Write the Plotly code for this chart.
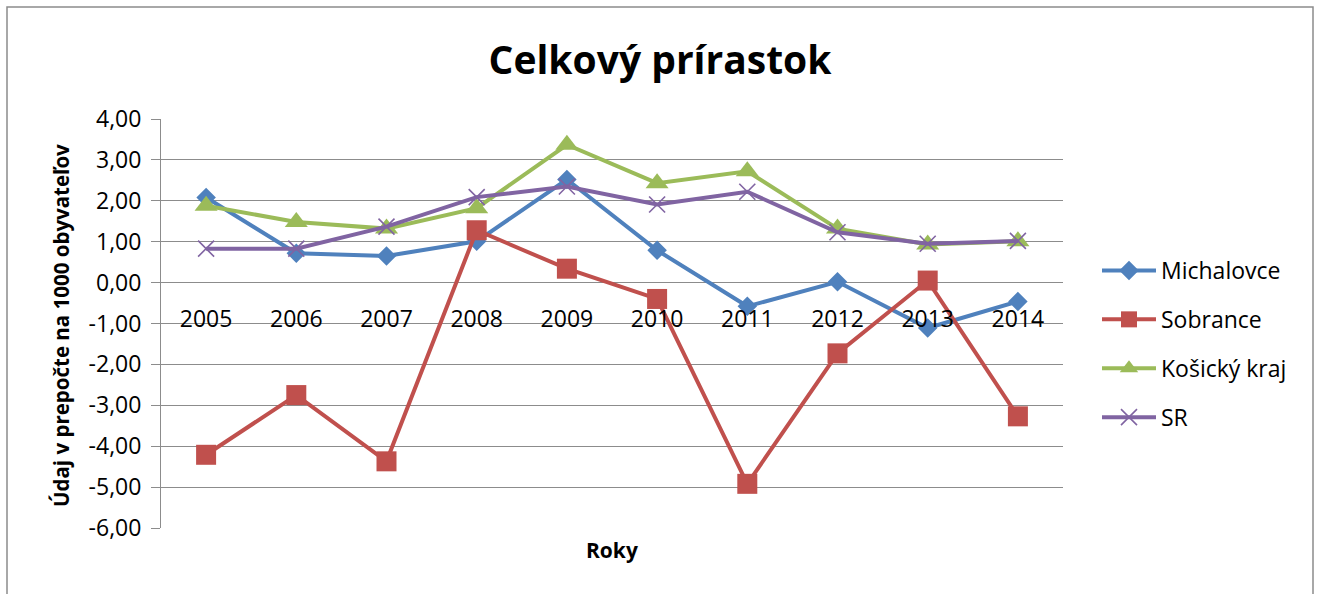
import plotly.graph_objects as go

years = [2005, 2006, 2007, 2008, 2009, 2010, 2011, 2012, 2013, 2014]
michalovce = [2.08, 0.72, 0.65, 1.01, 2.52, 0.79, -0.58, 0.02, -1.11, -0.46]
sobrance = [-4.21, -2.75, -4.37, 1.28, 0.34, -0.40, -4.92, -1.73, 0.05, -3.27]
kosicky = [1.88, 1.48, 1.32, 1.82, 3.37, 2.43, 2.72, 1.32, 0.93, 1.01]
sr = [0.83, 0.83, 1.37, 2.09, 2.35, 1.91, 2.22, 1.23, 0.95, 1.02]
y_ticks = [4, 3, 2, 1, 0, -1, -2, -3, -4, -5, -6]

series = [
    ("Michalovce", michalovce, "#4F81BD", "diamond", 15),
    ("Sobrance", sobrance, "#C0504D", "square", 20),
    ("Košický kraj", kosicky, "#9BBB59", "triangle-up", 20),
    ("SR", sr, "#8064A2", "x-thin-open", 16),
]

FONT = "Open Sans"

fig = go.Figure()
for i, (name, vals, col, sym, sz) in enumerate(series):
    marker = dict(symbol=sym, size=sz, color=col)
    if sym == "x-thin-open":
        marker["line"] = dict(color=col, width=1.6)
    fig.add_trace(go.Scatter(
        x=years, y=vals, name=name, mode="lines+markers",
        line=dict(color=col, width=4),
        marker=marker,
        legendgroup="g%d" % i,
    ))

# plot area in pixels: left 161, right 1063, top 119, bottom 528
L, R, T, B = 161, 1063, 119, 528
W, H = R - L, B - T

def px(x):
    return (x - L) / W

def py(y):
    return (B - y) / H

fig.update_layout(
    width=1320, height=594,
    margin=dict(l=L, r=1320 - R, t=T, b=594 - B),
    paper_bgcolor="white", plot_bgcolor="white",
    font=dict(family=FONT, color="black"),
    title=dict(text="<b>Celkový prírastok</b>", x=0.5, xref="container",
               y=1 - 60 / 594, yref="container", xanchor="center", yanchor="middle",
               font=dict(family=FONT, size=39, color="black")),
    showlegend=True,
    legend=dict(x=px(1097), y=py(249), xanchor="left", yanchor="top",
                font=dict(family=FONT, size=23, color="black"),
                tracegroupgap=16, itemwidth=54, bgcolor="rgba(0,0,0,0)"),
    xaxis=dict(
        range=[2004.5, 2014.5], tickmode="array", tickvals=years,
        ticktext=[str(y) for y in years],
        anchor="free", position=0.6, showgrid=False, zeroline=False,
        showline=False, ticks="", ticklabelstandoff=20,
        tickfont=dict(family=FONT, size=23, color="black"),
    ),
    yaxis=dict(
        range=[-6, 4], tickmode="array", tickvals=y_ticks,
        ticktext=[("%.2f" % v).replace(".", ",") for v in y_ticks],
        showgrid=True, gridcolor="#8C8C8C", gridwidth=1, zeroline=False,
        showline=True, linecolor="#8C8C8C", linewidth=1,
        ticks="outside", ticklen=9, tickcolor="#8C8C8C",
        ticklabelstandoff=5,
        tickfont=dict(family=FONT, size=23, color="black"),
    ),
    annotations=[
        dict(text="<b>Údaj v prepočte na 1000 obyvateľov</b>", textangle=-90,
             x=px(61), y=py(326), xref="paper", yref="paper",
             xanchor="center", yanchor="middle", showarrow=False,
             font=dict(family=FONT, size=20.5, color="black")),
        dict(text="<b>Roky</b>", x=px(612), y=py(550), xref="paper", yref="paper",
             xanchor="center", yanchor="middle", showarrow=False,
             font=dict(family=FONT, size=21, color="black")),
    ],
    shapes=[
        dict(type="rect", xref="paper", yref="paper",
             x0=px(7), x1=px(1313), y0=py(600), y1=py(7),
             line=dict(color="#8C8C8C", width=1.5), layer="below"),
    ],
)

fig.write_html("out.html", config={"displayModeBar": False},
               post_script="document.body.style.margin='0';document.body.style.padding='0';")
